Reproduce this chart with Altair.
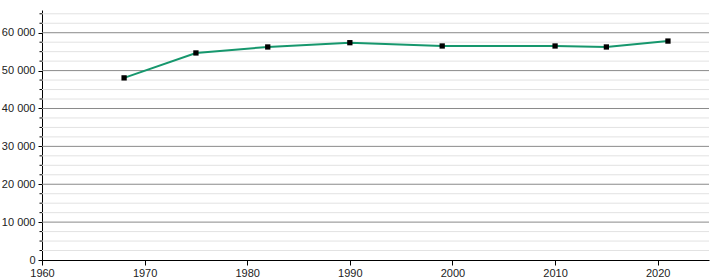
import altair as alt
import pandas as pd

years = [1968, 1975, 1982, 1990, 1999, 2010, 2015, 2021]
population = [48080, 54660, 56240, 57370, 56500, 56500, 56240, 57800]

x_ticks = [1960, 1970, 1980, 1990, 2000, 2010, 2020]
y_major = [0, 10000, 20000, 30000, 40000, 50000, 60000]
y_minor = [v for v in range(2500, 66000, 2500) if v % 10000 != 0]

df = pd.DataFrame({"year": years, "pop": population})
minor_df = pd.DataFrame({"v": y_minor})
major_df = pd.DataFrame({"v": y_major})

W, H = 667, 250
xs = alt.Scale(domain=[1960, 2025], nice=False, zero=False)
ys = alt.Scale(domain=[0, 66000], nice=False)

xaxis = alt.Axis(values=x_ticks, format="d", grid=False, domainColor="black",
                 tickColor="black", tickSize=5, labelFontSize=11, labelColor="#222",
                 labelFont="Liberation Sans", title=None, labelPadding=2, labelFlush=False)
yaxis = alt.Axis(values=y_major, grid=False, domainColor="black", tickColor="black",
                 tickSize=4, labelFontSize=11, labelColor="#222", labelFont="Liberation Sans",
                 title=None, labelPadding=3, labelFlush=False,
                 labelExpr="replace(format(datum.value, ','), /,/g, ' ')")

minor_grid = alt.Chart(minor_df).mark_rule(color="#e2e2e2", strokeWidth=1).encode(
    y=alt.Y("v:Q", scale=ys, axis=yaxis), x=alt.value(0), x2=alt.value(W))
minor_ticks = alt.Chart(minor_df).mark_rule(color="black", strokeWidth=1).encode(
    y=alt.Y("v:Q", scale=ys), x=alt.value(-2.5), x2=alt.value(0))
major_grid = alt.Chart(major_df[major_df.v > 0]).mark_rule(color="#8a8a8a", strokeWidth=1).encode(
    y=alt.Y("v:Q", scale=ys), x=alt.value(0), x2=alt.value(W))

line = alt.Chart(df).mark_line(color="#16976d", strokeWidth=2).encode(
    x=alt.X("year:Q", scale=xs, axis=xaxis), y=alt.Y("pop:Q", scale=ys))
pts = alt.Chart(df).mark_point(shape="square", filled=True, color="black", size=28, opacity=1).encode(
    x=alt.X("year:Q", scale=xs), y=alt.Y("pop:Q", scale=ys))

chart = alt.layer(minor_grid, major_grid, minor_ticks, line, pts).properties(
    width=W, height=H,
    autosize=alt.AutoSizeParams(type="none"),
    padding={"left": 42, "top": 10, "right": 11, "bottom": 20},
    background="white",
).configure_view(stroke=None)

chart.save("out.html", embed_options={"renderer": "svg", "actions": False})
